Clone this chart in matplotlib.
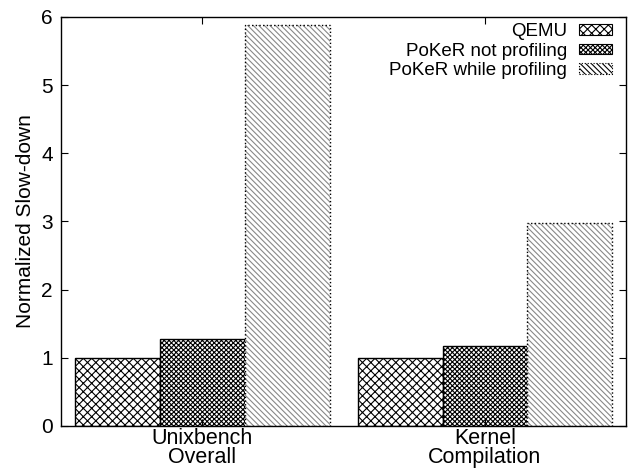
import matplotlib.pyplot as plt
import matplotlib.patches as mpatches
import numpy as np

plt.rcParams['font.family'] = ['Liberation Sans', 'DejaVu Sans']
plt.rcParams['hatch.linewidth'] = 0.8

groups = ['Unixbench\nOverall', 'Kernel\nCompilation']
series = ['QEMU', 'PoKeR not profiling', 'PoKeR while profiling']
qemu = [1.0, 1.0]
poker_not = [1.28, 1.17]
poker_prof = [5.88, 2.97]
hatches = ['xxxx', 'xxxxxxx', '\\\\\\\\\\\\']
hcolors = ['black', 'black', '#888888']
lstyles = ['-', '-', ':']

fig = plt.figure(figsize=(6.3, 4.69), dpi=100)
ax = fig.add_axes([0.097, 0.092, 0.897, 0.872])

x = np.arange(len(groups))
w = 0.3
for i, vals in enumerate([qemu, poker_not, poker_prof]):
    # hatch layer, then outline on top
    ax.bar(x + (i - 1) * w, vals, w, facecolor='white', edgecolor=hcolors[i],
           hatch=hatches[i], linewidth=0)
    ax.bar(x + (i - 1) * w, vals, w, fill=False, edgecolor='black',
           linewidth=1.0, linestyle=lstyles[i])

ax.set_xlim(-0.5, 1.5)
ax.set_ylim(0, 6)
ax.set_xticks(x)
ax.set_xticklabels(groups, fontsize=15.5, linespacing=0.88)
ax.set_yticks(range(7))
ax.tick_params(axis='y', labelsize=15, direction='in', right=True, length=5, pad=6)
ax.tick_params(axis='x', direction='in', top=True, length=5, pad=1.5)
ax.set_ylabel('Normalized Slow-down', fontsize=15, labelpad=4)
for s in ax.spines.values():
    s.set_linewidth(1.0)

handles = [mpatches.Patch(facecolor='white', edgecolor='black', hatch=hatches[i],
                          linewidth=0.8, linestyle=lstyles[i]) for i in range(3)]
ax.legend(handles, series, loc='upper right', bbox_to_anchor=(0.982, 0.993),
          frameon=False, markerfirst=False,
          fontsize=13.5, handlelength=1.8, handleheight=0.5, labelspacing=0.12,
          borderaxespad=0, handletextpad=0.6, borderpad=0.2)

fig.savefig('out.png', dpi=100)
